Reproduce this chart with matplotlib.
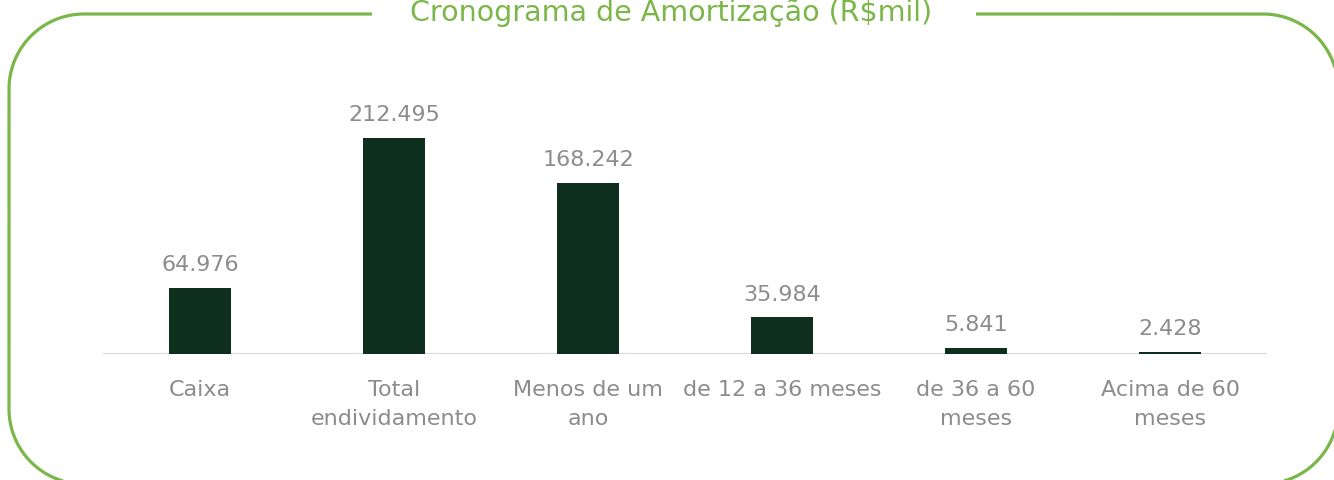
import numpy as np
import matplotlib
matplotlib.use("Agg")
import matplotlib.pyplot as plt

categories = ["Caixa", "Total\nendividamento", "Menos de um\nano",
              "de 12 a 36 meses", "de 36 a 60\nmeses", "Acima de 60\nmeses"]
values = [64976, 212495, 168242, 35984, 5841, 2428]
title = "Cronograma de Amortização (R$mil)"

BAR = "#0e2e1e"
GREEN = "#7ab648"
GRAY = "#8c8c8c"

plt.rcParams["font.family"] = ["DejaVu Sans"]

W, H = 1334, 480
fig = plt.figure(figsize=(W / 100, H / 100), dpi=100)

# frame overlay in pixel coords (y down), rounded box with a gap for the title
bg = fig.add_axes([0, 0, 1, 1])
bg.set_xlim(0, W)
bg.set_ylim(H, 0)
bg.axis("off")


def arc(cx, cy, r, a0, a1, n=40):
    t = np.radians(np.linspace(a0, a1, n))
    return cx + r * np.cos(t), cy + r * np.sin(t)


L, T, R, B, rad = 9, 14, 1338, 484, 75
xs, ys = [976], [T]
for cx, cy, a0, a1 in [(R - rad, T + rad, -90, 0), (R - rad, B - rad, 0, 90),
                       (L + rad, B - rad, 90, 180), (L + rad, T + rad, 180, 270)]:
    ax_, ay_ = arc(cx, cy, rad, a0, a1)
    xs.extend(ax_)
    ys.extend(ay_)
xs.append(372)
ys.append(T)
bg.plot(xs, ys, color=GREEN, linewidth=2.3, solid_capstyle="butt", clip_on=False)
bg.text(671, 21, title, ha="center", va="baseline", color=GREEN, fontsize=20.5)

# bars
ax = fig.add_axes([103 / W, 126 / H, 1164 / W, 254.1 / H])
x = np.arange(len(categories))
ax.bar(x, values, width=0.315, color=BAR, zorder=2)
ax.set_xlim(-0.5, len(categories) - 0.5)
ax.set_ylim(0, 250000)
ax.axhline(0, color="#d9d9d9", linewidth=1.5, zorder=1)
for s in ax.spines.values():
    s.set_visible(False)
ax.set_yticks([])
ax.set_xticks(x, categories)
ax.tick_params(axis="x", length=0, pad=18.5, labelsize=16, labelcolor=GRAY)
for lbl in ax.get_xticklabels():
    lbl.set_linespacing(1.6)
for xi, v in zip(x, values):
    ax.annotate(f"{v:,}".replace(",", "."), (xi, v), xytext=(0, 12),
                textcoords="offset points", ha="center", va="baseline",
                color=GRAY, fontsize=16)

fig.savefig("out.png", dpi=100)
